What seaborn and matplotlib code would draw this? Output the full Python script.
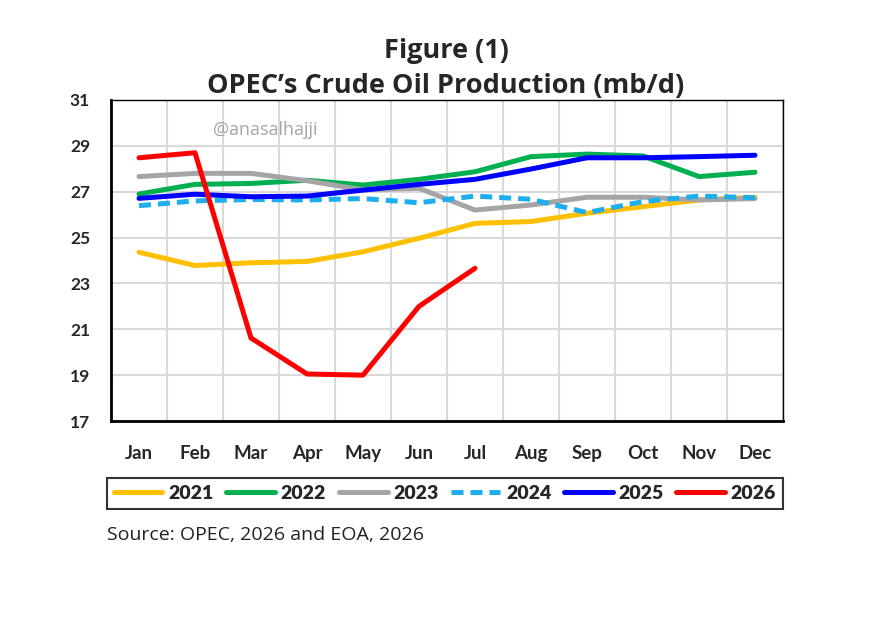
import numpy as np
import pandas as pd
import matplotlib
matplotlib.use("Agg")
import matplotlib.pyplot as plt
from matplotlib.lines import Line2D
from matplotlib.ticker import FixedLocator
import seaborn as sns

months = ["Jan", "Feb", "Mar", "Apr", "May", "Jun", "Jul", "Aug", "Sep", "Oct", "Nov", "Dec"]
y2021 = [24.36, 23.78, 23.90, 23.96, 24.38, 24.97, 25.62, 25.70, 26.06, 26.35, 26.64, 26.76]
y2022 = [26.90, 27.32, 27.36, 27.50, 27.29, 27.54, 27.87, 28.53, 28.64, 28.56, 27.66, 27.85]
y2023 = [27.66, 27.80, 27.80, 27.48, 27.08, 27.15, 26.20, 26.42, 26.76, 26.76, 26.64, 26.70]
y2024 = [26.39, 26.60, 26.66, 26.64, 26.70, 26.52, 26.81, 26.67, 26.09, 26.57, 26.81, 26.74]
y2025 = [26.71, 26.89, 26.78, 26.81, 27.07, 27.32, 27.54, 27.99, 28.48, 28.48, 28.53, 28.59]
y2026 = [28.48, 28.70, 20.62, 19.05, 19.00, 22.00, 23.66]

years = ["2021", "2022", "2023", "2024", "2025", "2026"]
series = [y2021, y2022, y2023, y2024, y2025, y2026]
colors = ["#FFC000", "#00B050", "#A5A5A5", "#1EAEEF", "#0000FF", "#FF0000"]

rows = []
for yr, vals in zip(years, series):
    for i, v in enumerate(vals):
        rows.append({"pos": i, "value": v, "year": yr})
df = pd.DataFrame(rows)

sns.set_style("white")
plt.rcParams["font.family"] = ["Lato", "DejaVu Sans"]

LW = 3.6
DASH = (2.4, 1.4)

fig = plt.figure(figsize=(8.75, 6.23), dpi=100)
ax = fig.add_axes([111 / 875, 1 - 421 / 623, 672 / 875, 321 / 623])

palette = dict(zip(years, colors))
dashes = {yr: "" for yr in years}
dashes["2024"] = DASH
sns.lineplot(data=df, x="pos", y="value", hue="year", style="year",
             palette=palette, dashes=dashes, linewidth=LW, ax=ax,
             legend=False, sort=False)

ax.set_xlim(-0.5, 11.5)
ax.set_ylim(17, 31)
ax.set_yticks(np.arange(17, 32, 2))
ax.set_xticks(range(12))
ax.set_xticklabels(months)
ax.xaxis.set_minor_locator(FixedLocator(np.arange(-0.5, 12, 1)))
ax.tick_params(axis="x", which="major", length=0, pad=17, labelsize=13.5)
ax.tick_params(axis="x", which="minor", length=6, width=1.5, direction="out", color="black")
ax.tick_params(axis="y", length=6, width=1.5, direction="out", color="black", labelsize=12.5, pad=9)
for lab in ax.get_xticklabels() + ax.get_yticklabels():
    lab.set_fontweight("bold")
ax.set_xlabel("")
ax.set_ylabel("")

ax.grid(False)
ax.grid(axis="y", which="major", color="#D9D9D9", linewidth=1.5)
ax.grid(axis="x", which="minor", color="#D9D9D9", linewidth=1.5)
ax.set_axisbelow(True)

for side in ["left", "bottom"]:
    ax.spines[side].set_color("black")
    ax.spines[side].set_linewidth(2)
for side in ["top", "right"]:
    ax.spines[side].set_color("black")
    ax.spines[side].set_linewidth(1)

ax.text(0.152, 0.905, "@anasalhajji", transform=ax.transAxes, color="#A6A6A6",
        fontsize=13, ha="left", va="center", family=["Open Sans", "DejaVu Sans"])

fig.text(446 / 875, 1 - 58 / 623, "Figure (1)", ha="center", va="baseline",
         fontsize=19.5, fontweight="bold", family=["Open Sans", "DejaVu Sans"])
fig.text(446 / 875, 1 - 93 / 623, "OPEC\u2019s Crude Oil Production (mb/d)", ha="center",
         va="baseline", fontsize=19.5, fontweight="bold", family=["Open Sans", "DejaVu Sans"])

handles = []
for yr, c in zip(years, colors):
    ls = (0, DASH) if yr == "2024" else "-"
    handles.append(Line2D([0], [0], color=c, linewidth=LW, linestyle=ls))
leg = fig.legend(handles, years, ncol=6, loc="center",
                 bbox_to_anchor=(107 / 875, 1 - 513 / 623, 676 / 875, 39 / 623),
                 mode="expand", frameon=True, fancybox=False, handlelength=2.5,
                 handletextpad=0.3, columnspacing=1.0, borderaxespad=0, borderpad=0.35,
                 prop={"weight": "heavy", "size": 14})
leg.get_frame().set_edgecolor("black")
leg.get_frame().set_linewidth(1.5)

fig.text(107 / 875, 1 - 535 / 623, "Source: OPEC, 2026 and EOA, 2026", ha="left",
         va="center", fontsize=14, family=["Open Sans", "DejaVu Sans"], color="#222222")

fig.savefig("out.png", dpi=100, facecolor="white")
